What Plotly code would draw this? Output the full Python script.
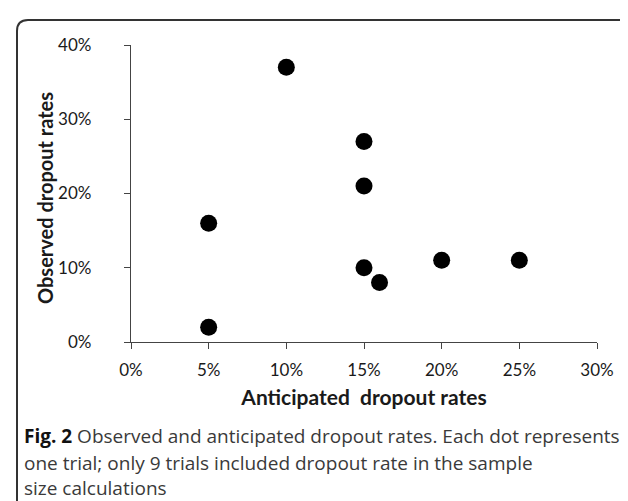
import plotly.graph_objects as go

# Data (percent)
anticipated = [5, 5, 10, 15, 15, 15, 16, 20, 25]
observed = [2, 16, 37, 27, 21, 10, 8, 11, 11]
x_ticks = [0, 5, 10, 15, 20, 25, 30]
y_ticks = [0, 10, 20, 30, 40]

W, H = 628, 501
ML, MR, MT, MB = 123, 39, 37, 167
PW, PH = W - ML - MR, H - MT - MB

def px(x):
    return (x - ML) / PW

def py(y):
    return (H - MB - y) / PH

fig = go.Figure()
fig.add_trace(go.Scatter(
    x=anticipated, y=observed, mode="markers",
    marker=dict(size=17, color="black"),
    hoverinfo="x+y", showlegend=False,
))

tickfont = dict(family="Lato, sans-serif", size=17, color="#1a1a1a")
fig.update_xaxes(
    range=[0, 30], tickvals=x_ticks, ticktext=[f"{v}%" for v in x_ticks],
    showgrid=False, zeroline=False, showline=True, linecolor="#444", linewidth=1.3,
    ticks="outside", ticklen=6, tickcolor="#444", tickwidth=1.3,
    tickfont=tickfont, ticklabelstandoff=6,
    title=dict(text="<b>Anticipated\u00a0 dropout rates</b>",
               font=dict(family="Lato, sans-serif", size=21, color="#1a1a1a"), standoff=11),
)
fig.update_yaxes(
    range=[0, 40], tickvals=y_ticks, ticktext=[f"{v}%" for v in y_ticks],
    showgrid=False, zeroline=False, showline=True, linecolor="#444", linewidth=1.3,
    ticks="outside", ticklen=6, tickcolor="#444", tickwidth=1.3,
    tickfont=tickfont, ticklabelstandoff=29,
)

# Y axis title placed at the reference position
fig.add_annotation(text="<b>Observed dropout rates</b>", textangle=-90,
                   xref="paper", yref="paper", x=px(37), y=py(190),
                   xanchor="center", yanchor="middle", showarrow=False,
                   font=dict(family="Lato, sans-serif", size=20, color="#1a1a1a"))

# Rounded border (clipped at right and bottom)
x0, y0, r = 9, 12, 11
path = (f"M {px(x0)},{py(H + 10)} L {px(x0)},{py(y0 + r)} "
        f"Q {px(x0)},{py(y0)} {px(x0 + r)},{py(y0)} L {px(W + 10)},{py(y0)}")
fig.add_shape(type="path", path=path, xref="paper", yref="paper",
              line=dict(color="#333", width=2))

cap_font = dict(family="Open Sans, sans-serif", size=19, color="#3a3a3a")
caption = [
    "<b style='color:#111'>Fig. 2</b> Observed and anticipated dropout rates. Each dot represents",
    "one trial; only 9 trials included dropout rate in the sample",
    "size calculations",
]
for line, ypix in zip(caption, [428, 455, 480]):
    fig.add_annotation(text=line, xref="paper", yref="paper", x=px(14), y=py(ypix),
                       xanchor="left", yanchor="middle", showarrow=False, font=cap_font)

fig.update_layout(
    width=W, height=H, margin=dict(l=ML, r=MR, t=MT, b=MB),
    paper_bgcolor="white", plot_bgcolor="white",
)
fig.write_html("out.html")
